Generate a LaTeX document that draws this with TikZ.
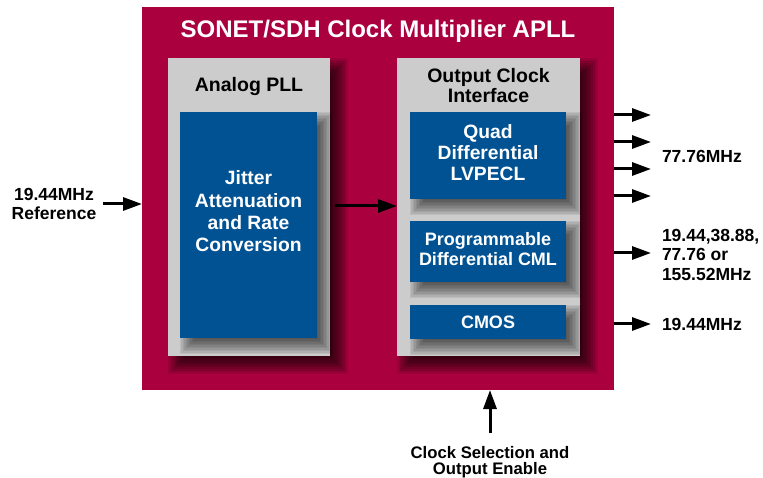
\documentclass[tikz,border=0pt]{standalone}
\usepackage{fontspec}
\setmainfont{Liberation Sans}
\usetikzlibrary{arrows.meta}
\definecolor{apllred}{RGB}{170,0,62}
\definecolor{panelgrey}{RGB}{204,204,204}
\definecolor{blkblue}{RGB}{0,82,147}
\newcommand{\fs}[2]{\fontsize{#1}{#2}\selectfont\bfseries}
% soft drop shadow below and right of a rectangular node:
% #1 node name, #2 offset (pt), #3 opacity of each of the 12 layers
\newcommand{\softshadow}[3]{%
  \foreach \k in {0,...,11}{%
    \pgfmathsetmacro\ee{#2*(1-\k/5.5)}%
    \pgfmathsetmacro\lo{#2-\ee}%
    \pgfmathsetmacro\hi{#2+\ee}%
    \fill[black,opacity=#3]
      ([xshift=\lo pt,yshift=-\lo pt]#1.north west) rectangle
      ([xshift=\hi pt,yshift=-\hi pt]#1.south east);
  }}
\pgfdeclarelayer{chiplayer}
\pgfdeclarelayer{panelshadow}
\pgfdeclarelayer{panellayer}
\pgfdeclarelayer{blkshadow}
\pgfsetlayers{chiplayer,panelshadow,panellayer,blkshadow,main}
\begin{document}
\begin{tikzpicture}[x=1pt,y=-1pt,
  every node/.style={inner sep=0pt,outer sep=0pt},
  chip/.style={fill=apllred,anchor=north west},
  panel/.style={fill=panelgrey,anchor=north west},
  blk/.style={fill=blkblue,anchor=north west},
  blktext/.style={text=white,align=center},
  heading/.style={text=black,align=center,font=\fs{19.5}{18}},
  lbl/.style={text=black,font=\fs{17.5}{19.5}},
  arr/.style={line width=3pt,-{Triangle[length=19pt,width=13pt]}}
]
\useasboundingbox (0,0) rectangle (763,478);

% device outline and title
\begin{pgfonlayer}{chiplayer}
\node[chip,minimum width=472pt,minimum height=383pt] (apll) at (142,7) {};
\end{pgfonlayer}
\node[text=white,font=\fs{24}{28}] (title) at (378,31.5) {SONET/SDH Clock Multiplier APLL};

% the two grey panels
\begin{pgfonlayer}{panellayer}
\node[panel,minimum width=162pt,minimum height=298pt] (pll) at (168,58) {};
\node[panel,minimum width=183pt,minimum height=298pt] (oci) at (397,58) {};
\end{pgfonlayer}
\begin{pgfonlayer}{panelshadow}
\softshadow{pll}{9}{0.09}
\softshadow{oci}{9}{0.09}
\end{pgfonlayer}

% analog PLL contents
\node[heading] (pllname) at (249,87) {Analog PLL};
\node[blk,minimum width=137pt,minimum height=226pt] (jit) at (180,112) {};
\node[blktext,font=\fs{19.3}{22.3}] (jittext) at (248.5,211.5)
  {Jitter\\Attenuation\\and Rate\\Conversion};

% output clock interface contents
\node[heading] (ociname) at (488.5,85.5) {Output Clock\\Interface};
\node[blk,minimum width=156pt,minimum height=87pt] (quad) at (410,112) {};
\node[blktext,font=\fs{19.3}{21}] (quadtext) at (488,153) {Quad\\Differential\\LVPECL};
\node[blk,minimum width=156pt,minimum height=61pt] (prog) at (410,221) {};
\node[blktext,font=\fs{18}{20}] (progtext) at (488,249) {Programmable\\Differential CML};
\node[blk,minimum width=156pt,minimum height=34pt] (cmos) at (410,305) {};
\node[blktext,font=\fs{18}{20}] (cmostext) at (488,322) {CMOS};

\begin{pgfonlayer}{blkshadow}
\softshadow{jit}{8}{0.07}
\softshadow{quad}{8}{0.07}
\softshadow{prog}{8}{0.07}
\softshadow{cmos}{8}{0.07}
\end{pgfonlayer}

% external labels
\node[lbl,align=center] (ref) at (54,204) {19.44MHz\\Reference};
\node[lbl,anchor=west] (lvpecl) at (662,156) {77.76MHz};
\node[lbl,anchor=west,align=left] (cml) at (662,254.6) {19.44,38.88,\\77.76 or\\155.52MHz};
\node[lbl,anchor=west] (cmosout) at (662,324) {19.44MHz};
\node[text=black,align=center,font=\fs{16.7}{16.3}] (sel) at (490,462)
  {Clock Selection and\\Output Enable};

% signal flow
\coordinate (flow) at (0,206);
\coordinate (outx) at (651,0);
\draw[arr,shorten <=7pt] (ref.east) -- (ref.east -| apll.west);
\draw[arr] ([xshift=18pt]jit.east |- flow) -- (oci.west |- flow);
\draw[arr] (apll.east |- 0,115) -- (outx |- 0,115);
\draw[arr] (apll.east |- 0,142) -- (outx |- 0,142);
\draw[arr] (apll.east |- 0,169) -- (outx |- 0,169);
\draw[arr] (apll.east |- 0,196) -- (outx |- 0,196);
\draw[arr] (apll.east |- 0,253) -- (outx |- 0,253);
\draw[arr] (apll.east |- 0,324) -- (outx |- 0,324);
\draw[arr,shorten <=13pt] (sel.north) -- (sel.north |- apll.south);
\end{tikzpicture}
\end{document}
